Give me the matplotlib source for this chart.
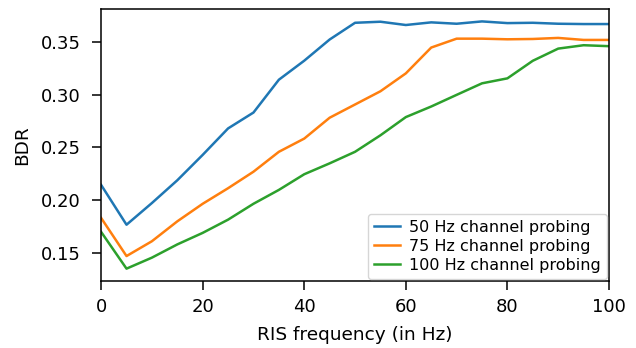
import matplotlib

matplotlib.use("Agg")

import matplotlib.pyplot as plt

ris_freq = [0, 5, 10, 15, 20, 25, 30, 35, 40, 45, 50, 55, 60, 65, 70, 75, 80, 85, 90, 95, 100]
bdr_50hz = [0.2146, 0.1770, 0.1975, 0.2190, 0.2430, 0.2680, 0.2830, 0.3140, 0.3320, 0.3520,
            0.3678, 0.3688, 0.3657, 0.3682, 0.3669, 0.3691, 0.3675, 0.3678, 0.3669, 0.3666, 0.3666]
bdr_75hz = [0.1834, 0.1474, 0.1614, 0.1802, 0.1968, 0.2115, 0.2271, 0.2459, 0.2584, 0.2781,
            0.2906, 0.3031, 0.3200, 0.3444, 0.3528, 0.3528, 0.3522, 0.3525, 0.3535, 0.3516, 0.3516]
bdr_100hz = [0.1702, 0.1355, 0.1459, 0.1584, 0.1693, 0.1818, 0.1968, 0.2099, 0.2247, 0.2350,
             0.2459, 0.2615, 0.2787, 0.2887, 0.2997, 0.3106, 0.3153, 0.3319, 0.3434, 0.3466, 0.3457]
labels = ["50 Hz channel probing", "75 Hz channel probing", "100 Hz channel probing"]

fig = plt.figure(figsize=(6.36, 3.48), dpi=100)
ax = fig.add_axes([0.159, 0.1925, 0.7985, 0.7815])

for series, label in zip([bdr_50hz, bdr_75hz, bdr_100hz], labels):
    ax.plot(ris_freq, series, label=label, linewidth=1.8)

ax.set_xlim(0, 100)
for spine in ax.spines.values():
    spine.set_linewidth(1.1)
ax.tick_params(labelsize=13, length=6.5, width=1.1)
ax.tick_params(axis="x", pad=5.5)
ax.tick_params(axis="y", pad=8)
ax.set_xlabel("RIS frequency (in Hz)", fontsize=13.3, labelpad=7.5)
ax.set_ylabel("BDR", fontsize=13.3, labelpad=7)
ax.legend(loc="lower right", fontsize=11.5, labelspacing=0.25, handlelength=1.6,
          handletextpad=0.6, borderaxespad=0.1)

fig.savefig("out.png", dpi=100)
